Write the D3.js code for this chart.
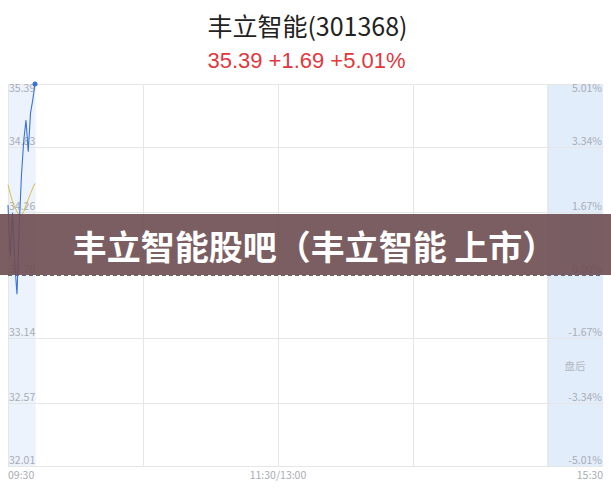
<!DOCTYPE html>
<html>
<head>
<meta charset="utf-8">
<script src="https://cdn.jsdelivr.net/npm/d3@7"></script>
<style>
  html, body { margin: 0; padding: 0; background: #fff; }
  svg { display: block; font-family: "Noto Sans CJK SC", "DejaVu Sans", sans-serif; }
</style>
</head>
<body>
<script>
var width = 611;
var height = 492;

// stock info
var stockName = "丰立智能(301368)";
var quoteText = "35.39 +1.69 +5.01%";
var bannerText = "丰立智能股吧（丰立智能 上市）";
var prevClose = 33.70;

// price axis ticks (left) and percent ticks (right)
var priceTicks = [35.39, 34.83, 34.26, 33.70, 33.14, 32.57, 32.01];
var pctTicks = ["5.01%", "3.34%", "1.67%", "0.00%", "-1.67%", "-3.34%", "-5.01%"];
var timeLabels = ["09:30", "11:30/13:00", "15:30"];

// minutes after 09:30 and intraday values
var minutes = [0, 1, 2, 3, 4, 5, 6, 7, 8, 9, 10, 11, 12];
var prices  = [34.32, 33.86, 34.25, 33.80, 33.53, 34.14, 34.59, 34.89, 35.07, 34.79, 35.13, 35.25, 35.39];
var avgPrices = [34.50, 34.42, 34.35, 34.30, 34.26, 34.23, 34.23, 34.26, 34.32, 34.37, 34.42, 34.47, 34.51];

var plotLeft = 8, plotRight = 603, plotTop = 84, plotBottom = 466;
var mainRight = 548; // 240 trading minutes, then after-hours strip

var svg = d3.select("body").append("svg")
    .attr("width", width)
    .attr("height", height);

var x = d3.scaleLinear().domain([0, 240]).range([plotLeft, mainRight]);
var y = d3.scaleLinear().domain([32.01, 35.39]).range([plotBottom, plotTop]);

// title
svg.append("text")
    .attr("x", width / 2 + 2).attr("y", 36)
    .attr("text-anchor", "middle")
    .style("font-size", "25px")
    .style("font-family", "'Noto Sans CJK SC', 'Liberation Sans', sans-serif")
    .attr("fill", "#222")
    .text(stockName);

svg.append("text")
    .attr("x", width / 2 + 1).attr("y", 68)
    .attr("text-anchor", "middle")
    .style("font-size", "22px")
    .style("font-family", "'Liberation Sans', Arial, sans-serif")
    .attr("fill", "#e0383e")
    .text(quoteText);

// shaded bands
svg.append("rect")
    .attr("x", x(0)).attr("y", plotTop)
    .attr("width", x(12.3) - x(0)).attr("height", plotBottom - plotTop)
    .attr("fill", "#edf3fd");
svg.append("rect")
    .attr("x", mainRight - 1).attr("y", plotTop)
    .attr("width", plotRight - mainRight + 1).attr("height", plotBottom - plotTop)
    .attr("fill", "#e2edfc");

// grid lines
svg.selectAll(".hgrid")
    .data(priceTicks)
    .enter().append("line")
    .attr("class", "hgrid")
    .attr("x1", plotLeft).attr("x2", plotRight)
    .attr("y1", function (d) { return Math.round(y(d)) + 0.5; })
    .attr("y2", function (d) { return Math.round(y(d)) + 0.5; })
    .attr("stroke", function (d) { return d === prevClose ? "none" : "#e6e6e6"; })
    .attr("stroke-width", 1);

svg.selectAll(".vgrid")
    .data([0, 60, 120, 180, 240])
    .enter().append("line")
    .attr("class", "vgrid")
    .attr("x1", function (d) { return Math.round(x(d)) + 0.5; })
    .attr("x2", function (d) { return Math.round(x(d)) + 0.5; })
    .attr("y1", plotTop).attr("y2", plotBottom)
    .attr("stroke", "#e6e6e6");

// previous close dashed line
svg.append("line")
    .attr("x1", plotLeft).attr("x2", plotRight)
    .attr("y1", Math.round(y(prevClose)) + 0.5)
    .attr("y2", Math.round(y(prevClose)) + 0.5)
    .attr("stroke", "#666")
    .attr("stroke-dasharray", "4,3");

// left / right tick labels
svg.selectAll(".plab")
    .data(priceTicks)
    .enter().append("text")
    .attr("x", plotLeft + 1)
    .attr("y", function (d, i) { return i === 0 ? y(d) + 8 : y(d) - 2; })
    .style("font-size", "10.5px")
    .attr("fill", "#a8acb3")
    .text(function (d) { return d.toFixed(2); });

svg.selectAll(".rlab")
    .data(pctTicks)
    .enter().append("text")
    .attr("x", plotRight - 1)
    .attr("y", function (d, i) { return i === 0 ? y(priceTicks[i]) + 8 : y(priceTicks[i]) - 2; })
    .attr("text-anchor", "end")
    .style("font-size", "10.5px")
    .attr("fill", "#a8acb3")
    .text(function (d) { return d; });

svg.append("text")
    .attr("x", 575).attr("y", 370)
    .attr("text-anchor", "middle")
    .style("font-size", "10.5px")
    .attr("fill", "#b3b8c0")
    .text("盘后");

// time labels
svg.selectAll(".tlab")
    .data(timeLabels)
    .enter().append("text")
    .attr("x", function (d, i) { return [plotLeft, x(120), plotRight][i]; })
    .attr("y", 479)
    .attr("text-anchor", function (d, i) { return ["start", "middle", "end"][i]; })
    .style("font-size", "10.5px")
    .attr("fill", "#a8acb3")
    .text(function (d) { return d; });

// average line
var line = d3.line()
    .x(function (d, i) { return x(minutes[i]); })
    .y(function (d) { return y(d); });
svg.append("path")
    .datum(avgPrices)
    .attr("d", line)
    .attr("fill", "none")
    .attr("stroke", "#d8bf4a")
    .attr("stroke-width", 1);

// price line
svg.append("path")
    .datum(prices)
    .attr("d", line)
    .attr("fill", "none")
    .attr("stroke", "#3b73db")
    .attr("stroke-width", 1.1);

svg.append("circle")
    .attr("cx", x(minutes[minutes.length - 1]))
    .attr("cy", y(prices[prices.length - 1]))
    .attr("r", 2.5)
    .attr("fill", "#3b73db");

// banner overlay
svg.append("rect")
    .attr("x", 0).attr("y", 214)
    .attr("width", width).attr("height", 61)
    .attr("fill", "#6d4c51")
    .attr("fill-opacity", 0.9);

svg.append("text")
    .attr("x", width / 2 + 9).attr("y", 260)
    .attr("text-anchor", "middle")
    .style("font-size", "34px")
    .style("font-weight", "bold")
    .attr("fill", "#fff")
    .text(bannerText);
</script>
</body>
</html>
